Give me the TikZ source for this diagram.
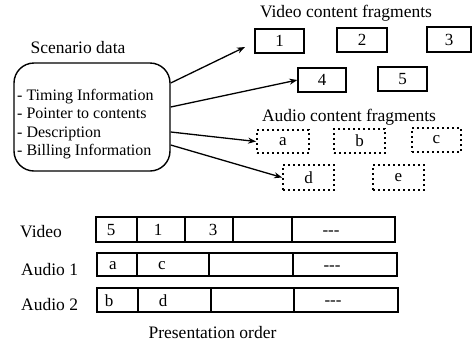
\documentclass[tikz,border=0pt]{standalone}
\usepackage{fontspec}
\setmainfont{Liberation Serif}
\usetikzlibrary{arrows.meta}
\begin{document}
\begin{tikzpicture}[x=1pt,y=-1pt,
  lbl/.style={font=\fontsize{17.5}{20}\selectfont, inner sep=0pt},
  frag/.style={draw, line width=1.3pt, minimum height=24pt, inner sep=0pt, font=\fontsize{17}{20}\selectfont},
  afrag/.style={frag, dash pattern=on 2pt off 3pt, line width=1.8pt},
  cell/.style={draw, line width=1.3pt, inner sep=0pt, outer sep=0pt},
  celltxt/.style={inner sep=0pt, font=\fontsize{17}{20}\selectfont},
  arr/.style={line width=1.3pt, -{Stealth[length=8pt,width=6pt]}}]
\useasboundingbox (0,0) rectangle (476,349);

% Scenario data
\node[lbl, anchor=base] (sdt) at (78,53) {Scenario data};
\node[draw, line width=1.4pt, rounded corners=20pt, minimum width=156pt, minimum height=108pt] (sd) at (92,117) {};
\node[inner sep=0pt, font=\fontsize{16}{18.3}\selectfont, align=left, anchor=west] (list) at (17,124)
  {- Timing Information\\- Pointer to contents\\- Description\\- Billing Information};

% Video fragments
\node[lbl, anchor=base] (vct) at (346,17) {Video content fragments};
\node[frag, minimum width=49pt] (v1) at (279.5,41) {1};
\node[frag, minimum width=50pt] (v2) at (362,40) {2};
\node[frag, minimum width=44pt, minimum height=25pt] (v3) at (449,39.5) {3};
\node[frag, minimum width=48pt] (v4) at (322,80) {4};
\node[frag, minimum width=49pt] (v5) at (402.5,79) {5};

% Audio fragments
\node[lbl, anchor=base] (act) at (349,121) {Audio content fragments};
\node[afrag, minimum width=52pt, minimum height=23pt] (fa) at (283,141.5) {a};
\node[afrag, minimum width=51pt] (fb) at (359.5,141) {b};
\node[afrag, minimum width=49pt] (fc) at (436.5,140) {c};
\node[afrag, minimum width=51pt, minimum height=25pt] (fd) at (308.5,177.5) {d};
\node[afrag, minimum width=51pt, minimum height=25pt] (fe) at (398.5,177.5) {e};

% Arrows
\coordinate (t1) at (245,47);
\draw[arr] ([yshift=34pt]sd.east) -- (t1);
\draw[arr] ([yshift=10pt]sd.east) -- (v4.west);
\draw[arr] ([yshift=-15pt]sd.east) -- (fa.west);
\draw[arr] ([yshift=-28pt]sd.east) -- (fd.west);

% Presentation order rows
\node[lbl, anchor=base west] (lv) at (20,237) {Video};
\node[lbl, anchor=base west] (la1) at (21,275) {Audio 1};
\node[lbl, anchor=base west] (la2) at (21,310) {Audio 2};

\node[cell, minimum width=41pt, minimum height=25pt] (vc1) at (116.5,229.5) {};
\node[cell, minimum width=48pt, minimum height=25pt] (vc2) at (161,229.5) {};
\node[cell, minimum width=48pt, minimum height=25pt] (vc3) at (209,229.5) {};
\node[cell, minimum width=59pt, minimum height=25pt] (vc4) at (262.5,229.5) {};
\node[cell, minimum width=103pt, minimum height=25pt] (vc5) at (343.5,229.5) {};
\node[celltxt] (vt1) at (111,230) {5};
\node[celltxt] (vt2) at (158,230) {1};
\node[celltxt] (vt3) at (213,230) {3};
\node[celltxt] (vt5) at (331,233) {-{}-{}-};

\node[cell, minimum width=40pt, minimum height=23pt] (ac1) at (117,264.5) {};
\node[cell, minimum width=72pt, minimum height=23pt] (ac2) at (173,264.5) {};
\node[cell, minimum width=84pt, minimum height=23pt] (ac3) at (251,264.5) {};
\node[cell, minimum width=104pt, minimum height=23pt] (ac4) at (345,264.5) {};
\node[celltxt] (at1) at (113,265.5) {a};
\node[celltxt] (at2) at (162,265.5) {c};
\node[celltxt] (at4) at (332,268) {-{}-{}-};

\node[cell, minimum width=41pt, minimum height=24pt] (bc1) at (117.5,300) {};
\node[cell, minimum width=73pt, minimum height=24pt] (bc2) at (174.5,300) {};
\node[cell, minimum width=83pt, minimum height=24pt] (bc3) at (252.5,300) {};
\node[cell, minimum width=104pt, minimum height=24pt] (bc4) at (346,300) {};
\node[celltxt] (bt1) at (109,300.5) {b};
\node[celltxt] (bt2) at (163,300.5) {d};
\node[celltxt] (bt4) at (333,303) {-{}-{}-};

\node[lbl, anchor=base] (po) at (212.5,338) {Presentation order};
\end{tikzpicture}
\end{document}
